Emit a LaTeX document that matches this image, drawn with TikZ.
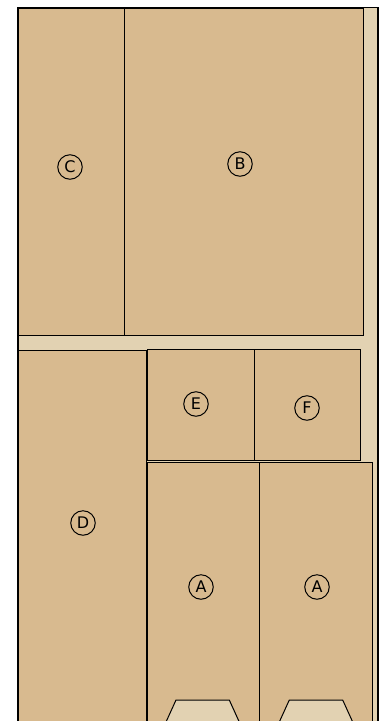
\documentclass[tikz,border=0pt]{standalone}
\usepackage{fontspec}
\setmainfont{DejaVu Sans}
\definecolor{board}{HTML}{D8BA8F}
\definecolor{gap}{HTML}{E2D2B2}
\tikzset{
  boardbox/.style={fill=board, draw=black, line width=1pt},
  lbl/.style={circle, draw=black, line width=1pt, minimum size=24.5pt, inner sep=0pt, font=\fontsize{16}{16}\selectfont},
}
\begin{document}
\begin{tikzpicture}[x=1pt,y=-1pt]
\useasboundingbox (0,0) rectangle (383,721);
\fill[white] (0,0) rectangle (383,721);
\begin{scope}
\clip (0,0) rectangle (383,721);
% frame / gap background
\fill[gap] (18,7.5) rectangle (378,740);
% boards
\draw[boardbox] (18,8) rectangle (124.5,335.5);
\draw[boardbox] (124.5,8) rectangle (363.5,335.5);
\draw[boardbox] (18,350.5) rectangle (146.5,740);
\draw[boardbox] (147,349.5) rectangle (254,460.5);
\draw[boardbox] (254,349.5) rectangle (360.7,460.5);
\draw[boardbox] (147,462.3) rectangle (259.5,740);
\draw[boardbox] (259.5,462.3) rectangle (372.3,740);
% handles
\draw[fill=gap, draw=black, line width=1pt] (166,722) -- (176,700) -- (229.3,700) -- (239.3,722);
\draw[fill=gap, draw=black, line width=1pt] (279.3,722) -- (289.3,700) -- (342.7,700) -- (352.7,722);
% outer frame
\draw[black, line width=1.6pt] (18,740) -- (18,7.5) -- (378,7.5) -- (378,740);
\end{scope}
% labels
\node[lbl] (C) at (70,167) {C};
\node[lbl] (B) at (240,164) {B};
\node[lbl] (E) at (196,404) {E};
\node[lbl] (F) at (307,408) {F};
\node[lbl] (D) at (83,523) {D};
\node[lbl] (A1) at (201,587) {A};
\node[lbl] (A2) at (317,587) {A};
\end{tikzpicture}
\end{document}
